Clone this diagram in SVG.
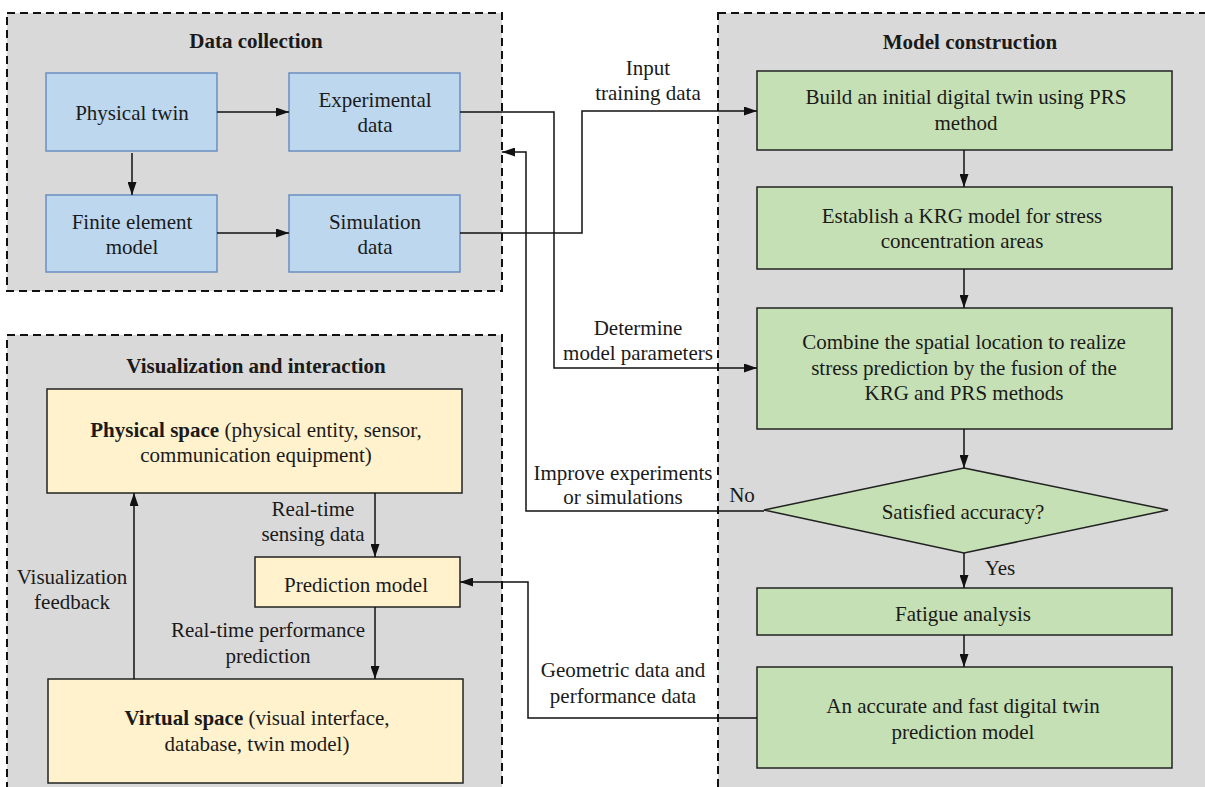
<svg xmlns="http://www.w3.org/2000/svg" width="1205" height="787" viewBox="0 0 1205 787">
<style>
text{font-family:"Liberation Serif",serif;font-size:21px;fill:#1a1a1a;text-anchor:middle}
.t{font-weight:bold}
.panel{fill:#d9d9d9;stroke:#111;stroke-width:2;stroke-dasharray:8 5}
.blue{fill:#bdd7ee;stroke:#6a8fc0;stroke-width:1.5}
.yel{fill:#fff2cc;stroke:#222;stroke-width:1.5}
.grn{fill:#c5e0b4;stroke:#222;stroke-width:1.5}
.c{fill:none;stroke:#111;stroke-width:1.5;marker-end:url(#ah)}
</style>
<defs>
<marker id="ah" viewBox="0 0 13 9" refX="13" refY="4.5" markerWidth="13" markerHeight="9" orient="auto" markerUnits="userSpaceOnUse"><path d="M0,0 L13,4.5 L0,9 z" fill="#111"/></marker>
</defs>
<rect width="1205" height="787" fill="#fff"/>
<g id="panels">
<rect id="panel-data" class="panel" x="7" y="13" width="495" height="278"/>
<rect id="panel-vis" class="panel" x="7" y="335" width="495" height="480"/>
<rect id="panel-model" class="panel" x="718" y="13" width="510" height="800"/>
<text class="t" x="256" y="48">Data collection</text>
<text class="t" x="970" y="49">Model construction</text>
<text class="t" x="256" y="373">Visualization and interaction</text>
</g>
<g id="physical-twin"><rect class="blue" x="46" y="73" width="171" height="78"/><text x="132" y="120">Physical twin</text></g>
<g id="experimental-data"><rect class="blue" x="289" y="73" width="171" height="78"/><text x="375" y="107">Experimental</text><text x="375" y="132">data</text></g>
<g id="fem"><rect class="blue" x="46" y="195" width="171" height="77"/><text x="132" y="229">Finite element</text><text x="132" y="254">model</text></g>
<g id="simulation-data"><rect class="blue" x="289" y="195" width="171" height="77"/><text x="375" y="229">Simulation</text><text x="375" y="254">data</text></g>
<g id="build"><rect class="grn" x="757" y="71" width="415" height="79"/><text x="966" y="104">Build an initial digital twin using PRS</text><text x="966" y="130">method</text></g>
<g id="establish"><rect class="grn" x="757" y="187" width="415" height="82"/><text x="962" y="223">Establish a KRG model for stress</text><text x="962" y="248">concentration areas</text></g>
<g id="combine"><rect class="grn" x="757" y="308" width="415" height="121"/><text x="964" y="349">Combine the spatial location to realize</text><text x="964" y="375">stress prediction by the fusion of the</text><text x="964" y="400">KRG and PRS methods</text></g>
<g id="decision"><polygon class="grn" points="964,468 1168,510 964,553 764,510"/><text x="963" y="519">Satisfied accuracy?</text></g>
<g id="fatigue"><rect class="grn" x="757" y="588" width="415" height="47"/><text x="963" y="621">Fatigue analysis</text></g>
<g id="final-model"><rect class="grn" x="757" y="667" width="415" height="101"/><text x="963" y="713">An accurate and fast digital twin</text><text x="963" y="739">prediction model</text></g>
<g id="physical-space"><rect class="yel" x="47" y="389" width="415" height="104"/><text x="256" y="437"><tspan class="t">Physical space</tspan> (physical entity, sensor,</text><text x="256" y="462">communication equipment)</text></g>
<g id="prediction-model"><rect class="yel" x="255" y="557" width="205" height="50"/><text x="356" y="592">Prediction model</text></g>
<g id="virtual-space"><rect class="yel" x="48" y="679" width="415" height="104"/><text x="257" y="725"><tspan class="t">Virtual space</tspan> (visual interface,</text><text x="257" y="751">database, twin model)</text></g>
<g id="connectors">
<path class="c" d="M217,112 H289"/>
<path class="c" d="M132,153 V195"/>
<path class="c" d="M217,233 H289"/>
<path class="c" d="M460,112 H554 V368 H757"/>
<path class="c" d="M460,233 H582 V111 H757"/>
<path class="c" d="M764,511 H526 V152 H502"/>
<path class="c" d="M757,718 H528 V582 H460"/>
<path class="c" d="M964,150 V187"/>
<path class="c" d="M964,269 V308"/>
<path class="c" d="M964,429 V468"/>
<path class="c" d="M964,553 V588"/>
<path class="c" d="M964,635 V667"/>
<path class="c" d="M375,493 V557"/>
<path class="c" d="M375,607 V679"/>
<path class="c" d="M134,679 V493"/>
<text x="648" y="75">Input</text><text x="648" y="100">training data</text>
<text x="638" y="335">Determine</text><text x="638" y="360">model parameters</text>
<text x="623" y="480">Improve experiments</text><text x="623" y="504">or simulations</text>
<text x="742" y="502">No</text>
<text x="1000" y="575">Yes</text>
<text x="623" y="677">Geometric data and</text><text x="623" y="703">performance data</text>
<text x="313" y="516">Real-time</text><text x="313" y="541">sensing data</text>
<text x="268" y="637">Real-time performance</text><text x="268" y="663">prediction</text>
<text x="72" y="584">Visualization</text><text x="72" y="609">feedback</text>
</g>
</svg>
